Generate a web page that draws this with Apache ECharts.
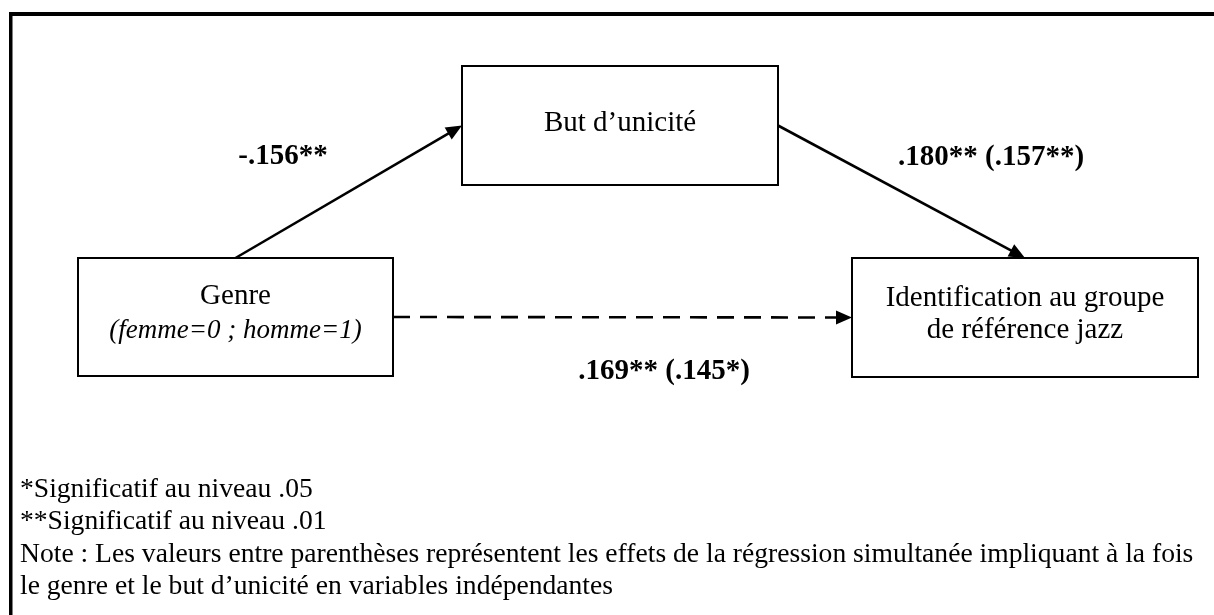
<!DOCTYPE html>
<html>
<head>
<meta charset="utf-8">
<script src="https://cdn.jsdelivr.net/npm/echarts@6/dist/echarts.min.js"></script>
<style>
html,body{margin:0;padding:0;background:#fff;}
#chart{width:1214px;height:615px;}
</style>
</head>
<body>
<div id="chart"></div>
<script>
// ---- Data ----
const nodeTitles = ['Genre', 'But d\u2019unicit\u00e9', 'Identification au groupe\nde r\u00e9f\u00e9rence jazz'];
const nodeSubtitles = ['(femme=0 ; homme=1)', '', ''];
const edgeFrom = [0, 1, 0];
const edgeTo = [1, 2, 2];
const edgeDirect = [false, false, true];
const coefLabels = ['-.156**', '.180** (.157**)', '.169** (.145*)'];
const notes = [
  '*Significatif au niveau .05',
  '**Significatif au niveau .01',
  'Note : Les valeurs entre parenth\u00e8ses repr\u00e9sentent les effets de la r\u00e9gression simultan\u00e9e impliquant \u00e0 la fois',
  'le genre et le but d\u2019unicit\u00e9 en variables ind\u00e9pendantes'
];

// ---- Layout (diagram coordinates) ----
const nodeX = [235.5, 620, 1025];
const nodeY = [317, 125.5, 317.5];
const nodeW = [315, 316, 346];
const nodeH = [118, 119, 119];
const fromSide = ['top', 'right', 'right'];
const toSide = ['left', 'top', 'left'];
const labelX = [283, 991, 664];
const labelY = [157, 158, 372];

const FONT = '"Liberation Serif", "Times New Roman", serif';

function anchor(i, side) {
  if (side === 'top') return [nodeX[i], nodeY[i] - nodeH[i] / 2];
  if (side === 'bottom') return [nodeX[i], nodeY[i] + nodeH[i] / 2];
  if (side === 'left') return [nodeX[i] - nodeW[i] / 2, nodeY[i]];
  return [nodeX[i] + nodeW[i] / 2, nodeY[i]];
}

const chart = echarts.init(document.getElementById('chart'), null, {renderer: 'canvas'});

const nodeData = nodeTitles.map((t, i) => [nodeX[i], nodeY[i], i]);
const edgeData = edgeFrom.map((f, i) => {
  const a = anchor(f, fromSide[i]);
  const b = anchor(edgeTo[i], toSide[i]);
  return [a[0], a[1], b[0], b[1], i];
});
const labelData = coefLabels.map((l, i) => [labelX[i], labelY[i], i]);

chart.setOption({
  animation: false,
  backgroundColor: '#fff',
  grid: {left: 0, right: 0, top: 0, bottom: 0},
  xAxis: {type: 'value', min: 0, max: 1214, show: false},
  yAxis: {type: 'value', min: 0, max: 615, inverse: true, show: false},
  graphic: [
    {type: 'rect', shape: {x: 9, y: 12, width: 1205, height: 4}, style: {fill: '#000'}, z: 100},
    {type: 'rect', shape: {x: 9, y: 12, width: 3.5, height: 603}, style: {fill: '#000'}, z: 100},
    {
      type: 'text', left: 20, top: 473, z: 100,
      style: {
        text: notes.join('\n'),
        font: '27.6px ' + FONT,
        lineHeight: 32.5,
        fill: '#000'
      }
    }
  ],
  series: [
    {
      type: 'custom',
      name: 'edges',
      coordinateSystem: 'cartesian2d',
      data: edgeData,
      encode: {x: [0, 2], y: [1, 3]},
      z: 2,
      renderItem: function (params, api) {
        const i = api.value(4);
        const p1 = api.coord([api.value(0), api.value(1)]);
        const p2 = api.coord([api.value(2), api.value(3)]);
        const dx = p2[0] - p1[0], dy = p2[1] - p1[1];
        const len = Math.sqrt(dx * dx + dy * dy);
        const ux = dx / len, uy = dy / len;
        const headL = 16, headW = 7;
        const bx = p2[0] - ux * headL, by = p2[1] - uy * headL;
        return {
          type: 'group',
          children: [
            {
              type: 'line',
              shape: {x1: p1[0], y1: p1[1], x2: bx + ux * 1, y2: by + uy * 1},
              style: {stroke: '#000', lineWidth: 2.6, lineDash: edgeDirect[i] ? [17, 10] : null}
            },
            {
              type: 'polygon',
              shape: {points: [[p2[0], p2[1]], [bx - uy * headW, by + ux * headW], [bx + uy * headW, by - ux * headW]]},
              style: {fill: '#000'}
            }
          ]
        };
      }
    },
    {
      type: 'custom',
      name: 'nodes',
      coordinateSystem: 'cartesian2d',
      data: nodeData,
      z: 3,
      renderItem: function (params, api) {
        const i = api.value(2);
        const c = api.coord([api.value(0), api.value(1)]);
        const s = api.size([nodeW[i], nodeH[i]]);
        const children = [{
          type: 'rect',
          shape: {x: c[0] - s[0] / 2, y: c[1] - s[1] / 2, width: s[0], height: s[1]},
          style: {fill: '#fff', stroke: '#000', lineWidth: 2}
        }];
        const sub = nodeSubtitles[i];
        const lines = nodeTitles[i].split('\n').length + (sub ? 1 : 0);
        let ty = c[1] - 2.5;
        if (lines > 1) ty = c[1] - 3.5;
        if (sub) {
          children.push({
            type: 'text',
            style: {text: nodeTitles[i], x: c[0], y: ty - 17.5, align: 'center', verticalAlign: 'middle', font: '29px ' + FONT, fill: '#000'}
          });
          children.push({
            type: 'text',
            style: {text: sub, x: c[0], y: ty + 17.5, align: 'center', verticalAlign: 'middle', font: 'italic 27px ' + FONT, fill: '#000'}
          });
        } else {
          children.push({
            type: 'text',
            style: {text: nodeTitles[i], x: c[0], y: ty, align: 'center', verticalAlign: 'middle', font: '29px ' + FONT, lineHeight: 32, fill: '#000'}
          });
        }
        return {type: 'group', children: children};
      }
    },
    {
      type: 'custom',
      name: 'coefficients',
      coordinateSystem: 'cartesian2d',
      data: labelData,
      z: 4,
      renderItem: function (params, api) {
        const i = api.value(2);
        const c = api.coord([api.value(0), api.value(1)]);
        return {
          type: 'text',
          style: {text: coefLabels[i], x: c[0], y: c[1], align: 'center', verticalAlign: 'middle', font: 'bold 29px ' + FONT, fill: '#000'}
        };
      }
    }
  ]
});
</script>
</body>
</html>
